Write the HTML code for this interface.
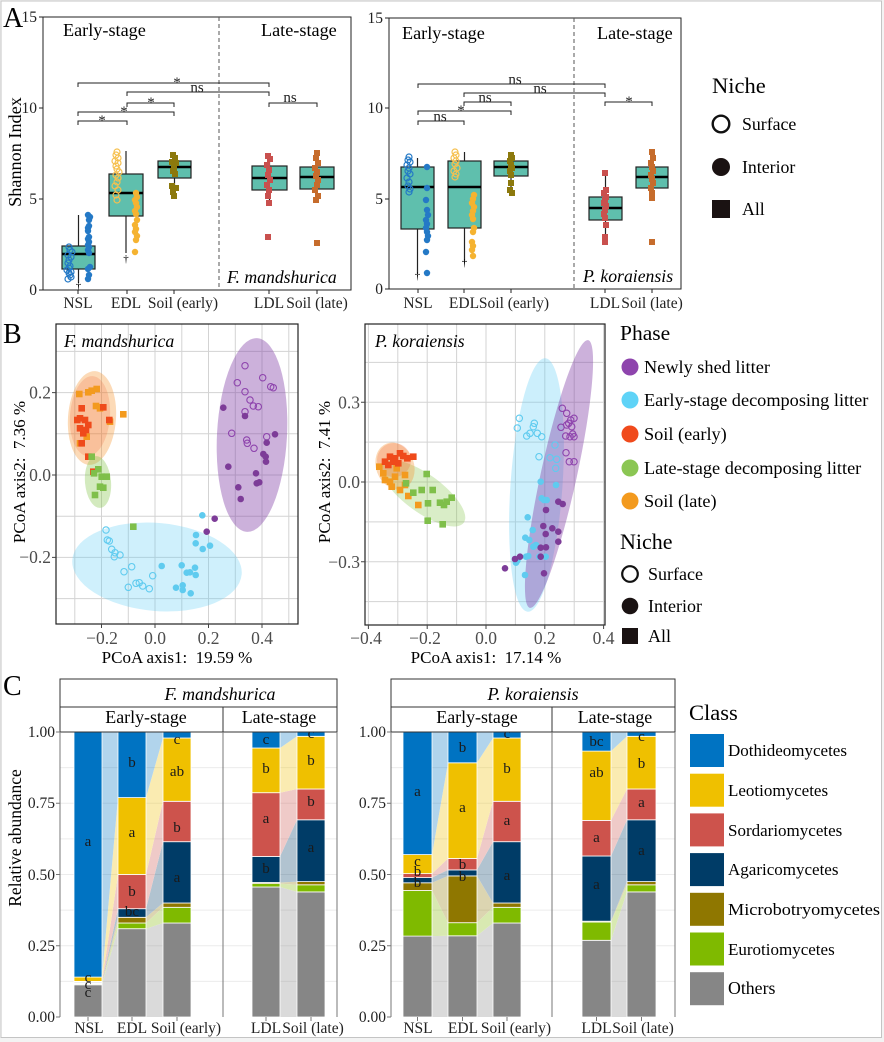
<!DOCTYPE html>
<html><head><meta charset="utf-8"><style>
html,body{margin:0;padding:0;background:#f3f3f3;}
svg{display:block;font-family:"Liberation Serif",serif;}
</style></head><body>
<svg width="884" height="1042" viewBox="0 0 884 1042" xmlns="http://www.w3.org/2000/svg" font-family="'Liberation Serif', serif">
<defs>
<clipPath id="cbl"><rect x="56" y="324" width="242" height="300"/></clipPath>
<clipPath id="cbr"><rect x="365" y="324" width="240" height="301"/></clipPath>
</defs>
<rect x="0" y="0" width="884" height="1042" fill="#f3f3f3"/>
<rect x="1" y="1" width="880.5" height="1036.5" fill="#fff" stroke="#c4c4c4" stroke-width="1"/>

<!-- ===================== PANEL A ===================== -->
<text x="3" y="27" font-size="28">A</text>
<g stroke="#222" stroke-width="1" fill="none">
<rect x="43" y="17" width="308" height="273"/>
<path d="M39 17H43M39 108H43M39 199H43M39 290H43"/>
<path d="M78 290V294M127 290V294M174 290V294M269 290V294M317 290V294"/>
</g>
<line x1="219" y1="17" x2="219" y2="290" stroke="#555" stroke-dasharray="4,3"/>
<g font-size="15.5" text-anchor="end" fill="#222">
<text x="37" y="22">15</text><text x="37" y="113">10</text><text x="37" y="204">5</text><text x="37" y="295">0</text>
</g>
<text transform="translate(21,152) rotate(-90)" font-size="18.2" text-anchor="middle">Shannon Index</text>
<g font-size="15.5" text-anchor="middle" fill="#222">
<text x="78" y="308">NSL</text><text x="126" y="308">EDL</text><text x="183" y="308">Soil (early)</text>
<text x="269" y="308">LDL</text><text x="317" y="308">Soil (late)</text>
</g>
<text x="63" y="36" font-size="18.2">Early-stage</text>
<text x="261" y="36" font-size="18.2">Late-stage</text>
<text x="227" y="283" font-size="17.7" font-style="italic">F. mandshurica</text>
<g stroke="#222" stroke-width="1" fill="none">
<path d="M78 87V83H269V87"/><path d="M127 96V92H269V96"/><path d="M127 107V103H174V107"/>
<path d="M78 116V112H174V116"/><path d="M78 125V121H127V125"/><path d="M269 107V103H317V107"/>
</g>
<g font-size="15" text-anchor="middle" fill="#222">
<text x="177" y="87">*</text><text x="197" y="92">ns</text><text x="151" y="107">*</text>
<text x="124" y="116">*</text><text x="102" y="125">*</text><text x="290" y="102">ns</text>
</g>
<g stroke="#222" stroke-width="1.2">
<line x1="78.5" y1="215" x2="78.5" y2="283"/>
<line x1="126" y1="151" x2="126" y2="253"/>
<line x1="174.5" y1="155" x2="174.5" y2="196"/>
<line x1="269.5" y1="156" x2="269.5" y2="203"/>
<line x1="317" y1="153" x2="317" y2="200"/>
</g>
<g fill="#5fbfad" stroke="#222" stroke-width="1.2">
<rect x="62" y="246" width="33" height="23"/>
<rect x="109" y="174" width="34" height="42"/>
<rect x="158" y="161" width="33" height="17"/>
<rect x="252" y="166" width="35" height="24"/>
<rect x="300" y="167" width="34" height="22"/>
</g>
<g stroke="#000" stroke-width="2.6">
<line x1="62" y1="254" x2="95" y2="254"/><line x1="109" y1="193" x2="143" y2="193"/>
<line x1="158" y1="167" x2="191" y2="167"/><line x1="252" y1="178" x2="287" y2="178"/>
<line x1="300" y1="177" x2="334" y2="177"/>
</g>
<g font-size="11" text-anchor="middle"><text x="78.5" y="289">†</text><text x="126" y="262">†</text></g>
<g fill="none" stroke="#2479c6" stroke-width="1.2">
<circle cx="69" cy="247" r="3"/><circle cx="70" cy="250" r="3"/><circle cx="68" cy="255" r="3"/><circle cx="71" cy="257" r="3"/><circle cx="69" cy="260" r="3"/><circle cx="68" cy="263" r="3"/><circle cx="70" cy="266" r="3"/><circle cx="69" cy="268" r="3"/><circle cx="71" cy="272" r="3"/><circle cx="69" cy="273" r="3"/><circle cx="70" cy="275" r="3"/><circle cx="68" cy="279" r="3"/><circle cx="71" cy="277" r="3"/><circle cx="72" cy="252" r="3"/><circle cx="67" cy="270" r="3"/>
</g>
<g fill="#2479c6">
<circle cx="88" cy="215" r="3.2"/><circle cx="90" cy="217" r="3.2"/><circle cx="89" cy="220" r="3.2"/><circle cx="89" cy="226" r="3.2"/><circle cx="88" cy="228" r="3.2"/><circle cx="88" cy="231" r="3.2"/><circle cx="89" cy="237" r="3.2"/><circle cx="88" cy="239" r="3.2"/><circle cx="89" cy="242" r="3.2"/><circle cx="88" cy="245" r="3.2"/><circle cx="89" cy="247" r="3.2"/><circle cx="88" cy="250" r="3.2"/><circle cx="89" cy="253" r="3.2"/><circle cx="90" cy="267" r="3.2"/><circle cx="88" cy="269" r="3.2"/><circle cx="89" cy="275" r="3.2"/><circle cx="88" cy="279" r="3.2"/>
</g>
<g fill="none" stroke="#f6c04f" stroke-width="1.2">
<circle cx="117" cy="152" r="3"/><circle cx="116" cy="155" r="3"/><circle cx="118" cy="158" r="3"/><circle cx="115" cy="161" r="3"/><circle cx="118" cy="163" r="3"/><circle cx="116" cy="166" r="3"/><circle cx="117" cy="169" r="3"/><circle cx="119" cy="172" r="3"/><circle cx="116" cy="175" r="3"/><circle cx="118" cy="178" r="3"/><circle cx="117" cy="182" r="3"/><circle cx="115" cy="186" r="3"/><circle cx="118" cy="190" r="3"/><circle cx="116" cy="195" r="3"/><circle cx="117" cy="200" r="3"/>
</g>
<g fill="#f5b331">
<circle cx="136" cy="193" r="3.2"/><circle cx="137" cy="197" r="3.2"/><circle cx="135" cy="200" r="3.2"/><circle cx="136" cy="203" r="3.2"/><circle cx="137" cy="207" r="3.2"/><circle cx="135" cy="211" r="3.2"/><circle cx="136" cy="214" r="3.2"/><circle cx="137" cy="220" r="3.2"/><circle cx="135" cy="225" r="3.2"/><circle cx="136" cy="229" r="3.2"/><circle cx="135" cy="232" r="3.2"/><circle cx="137" cy="236" r="3.2"/><circle cx="136" cy="240" r="3.2"/><circle cx="135" cy="252" r="3.2"/>
</g>
<g fill="#8c790d">
<rect x="170" y="152" width="6" height="6"/><rect x="172" y="155" width="6" height="6"/><rect x="169" y="159" width="6" height="6"/><rect x="173" y="160" width="6" height="6"/><rect x="171" y="163" width="6" height="6"/><rect x="171" y="165" width="6" height="6"/><rect x="170" y="168" width="6" height="6"/><rect x="172" y="171" width="6" height="6"/><rect x="169" y="183" width="6" height="6"/><rect x="173" y="185" width="6" height="6"/><rect x="170" y="189" width="6" height="6"/><rect x="171" y="193" width="6" height="6"/>
</g>
<g fill="#c9504e">
<rect x="265" y="153" width="6" height="6"/><rect x="267" y="156" width="6" height="6"/><rect x="264" y="162" width="6" height="6"/><rect x="266" y="167" width="6" height="6"/><rect x="265" y="172" width="6" height="6"/><rect x="267" y="177" width="6" height="6"/><rect x="264" y="182" width="6" height="6"/><rect x="266" y="187" width="6" height="6"/><rect x="265" y="193" width="6" height="6"/><rect x="266" y="200" width="6" height="6"/><rect x="265" y="234" width="6" height="6"/>
</g>
<g fill="#c66c2c">
<rect x="314" y="150" width="6" height="6"/><rect x="313" y="155" width="6" height="6"/><rect x="315" y="160" width="6" height="6"/><rect x="312" y="165" width="6" height="6"/><rect x="314" y="169" width="6" height="6"/><rect x="313" y="173" width="6" height="6"/><rect x="315" y="177" width="6" height="6"/><rect x="314" y="182" width="6" height="6"/><rect x="312" y="187" width="6" height="6"/><rect x="315" y="193" width="6" height="6"/><rect x="313" y="197" width="6" height="6"/><rect x="314" y="240" width="6" height="6"/>
</g>

<!-- right plot A -->
<g stroke="#222" stroke-width="1" fill="none">
<rect x="389" y="18" width="292" height="271"/>
<path d="M385 18H389M385 108H389M385 199H389M385 289H389"/>
<path d="M418 289V293M464 289V293M511 289V293M605 289V293M652 289V293"/>
</g>
<line x1="574" y1="18" x2="574" y2="289" stroke="#555" stroke-dasharray="4,3"/>
<g font-size="15.5" text-anchor="end" fill="#222">
<text x="383" y="23">15</text><text x="383" y="113">10</text><text x="383" y="204">5</text><text x="383" y="294">0</text>
</g>
<g font-size="15.5" text-anchor="middle" fill="#222">
<text x="418" y="308">NSL</text><text x="464" y="308">EDL</text><text x="514" y="308">Soil (early)</text>
<text x="605" y="308">LDL</text><text x="652" y="308">Soil (late)</text>
</g>
<text x="402" y="39" font-size="18.2">Early-stage</text>
<text x="597" y="39" font-size="18.2">Late-stage</text>
<text x="583" y="282" font-size="17.7" font-style="italic">P. koraiensis</text>
<g stroke="#222" stroke-width="1" fill="none">
<path d="M418 88V84H605V88"/><path d="M464 97V93H605V97"/><path d="M464 106V102H511V106"/>
<path d="M418 115V111H511V115"/><path d="M418 125V121H464V125"/><path d="M605 106V102H652V106"/>
</g>
<g font-size="15" text-anchor="middle" fill="#222">
<text x="515" y="84">ns</text><text x="540" y="93">ns</text><text x="485" y="102">ns</text>
<text x="461" y="115">*</text><text x="440" y="121">ns</text><text x="629" y="106">*</text>
</g>
<g stroke="#222" stroke-width="1.2">
<line x1="417.5" y1="158" x2="417.5" y2="274"/>
<line x1="464.5" y1="152" x2="464.5" y2="262"/>
<line x1="511" y1="155" x2="511" y2="195"/>
<line x1="605.5" y1="173" x2="605.5" y2="243"/>
<line x1="652" y1="152" x2="652" y2="198"/>
</g>
<g fill="#5fbfad" stroke="#222" stroke-width="1.2">
<rect x="401" y="167" width="33" height="62"/>
<rect x="448" y="161" width="33" height="67"/>
<rect x="494" y="161" width="34" height="15"/>
<rect x="589" y="197" width="33" height="23"/>
<rect x="636" y="167" width="32" height="21"/>
</g>
<g stroke="#000" stroke-width="2.6">
<line x1="401" y1="187" x2="434" y2="187"/><line x1="448" y1="187" x2="481" y2="187"/>
<line x1="494" y1="167" x2="528" y2="167"/><line x1="589" y1="208" x2="622" y2="208"/>
<line x1="636" y1="177" x2="668" y2="177"/>
</g>
<g font-size="11" text-anchor="middle"><text x="417.5" y="279">†</text><text x="464.5" y="266">†</text></g>
<g fill="none" stroke="#2479c6" stroke-width="1.2">
<circle cx="409" cy="157" r="3"/><circle cx="408" cy="160" r="3"/><circle cx="410" cy="162" r="3"/><circle cx="407" cy="165" r="3"/><circle cx="409" cy="168" r="3"/><circle cx="408" cy="171" r="3"/><circle cx="410" cy="174" r="3"/><circle cx="407" cy="178" r="3"/><circle cx="409" cy="182" r="3"/><circle cx="408" cy="186" r="3"/><circle cx="410" cy="189" r="3"/><circle cx="409" cy="192" r="3"/>
</g>
<g fill="#2479c6">
<circle cx="427" cy="167" r="3.2"/><circle cx="427" cy="188" r="3.2"/><circle cx="426" cy="200" r="3.2"/><circle cx="427" cy="210" r="3.2"/><circle cx="428" cy="215" r="3.2"/><circle cx="426" cy="220" r="3.2"/><circle cx="427" cy="224" r="3.2"/><circle cx="426" cy="228" r="3.2"/><circle cx="427" cy="232" r="3.2"/><circle cx="428" cy="236" r="3.2"/><circle cx="427" cy="240" r="3.2"/><circle cx="426" cy="252" r="3.2"/><circle cx="427" cy="273" r="3.2"/>
</g>
<g fill="none" stroke="#f6c04f" stroke-width="1.2">
<circle cx="455" cy="152" r="3"/><circle cx="456" cy="155" r="3"/><circle cx="454" cy="158" r="3"/><circle cx="456" cy="161" r="3"/><circle cx="455" cy="164" r="3"/><circle cx="457" cy="168" r="3"/><circle cx="454" cy="171" r="3"/><circle cx="456" cy="174" r="3"/><circle cx="455" cy="177" r="3"/>
</g>
<g fill="#f5b331">
<circle cx="474" cy="195" r="3.2"/><circle cx="473" cy="199" r="3.2"/><circle cx="472" cy="203" r="3.2"/><circle cx="474" cy="207" r="3.2"/><circle cx="473" cy="211" r="3.2"/><circle cx="472" cy="215" r="3.2"/><circle cx="473" cy="219" r="3.2"/><circle cx="474" cy="228" r="3.2"/><circle cx="473" cy="232" r="3.2"/><circle cx="472" cy="242" r="3.2"/><circle cx="473" cy="246" r="3.2"/><circle cx="472" cy="250" r="3.2"/><circle cx="473" cy="256" r="3.2"/>
</g>
<g fill="#8c790d">
<rect x="508" y="152" width="6" height="6"/><rect x="509" y="155" width="6" height="6"/><rect x="507" y="158" width="6" height="6"/><rect x="508" y="162" width="6" height="6"/><rect x="509" y="165" width="6" height="6"/><rect x="507" y="168" width="6" height="6"/><rect x="508" y="172" width="6" height="6"/><rect x="508" y="180" width="6" height="6"/><rect x="507" y="187" width="6" height="6"/><rect x="509" y="190" width="6" height="6"/>
</g>
<g fill="#c9504e">
<rect x="602" y="170" width="6" height="6"/><rect x="603" y="187" width="6" height="6"/><rect x="601" y="190" width="6" height="6"/><rect x="603" y="194" width="6" height="6"/><rect x="602" y="197" width="6" height="6"/><rect x="601" y="200" width="6" height="6"/><rect x="603" y="203" width="6" height="6"/><rect x="602" y="207" width="6" height="6"/><rect x="601" y="211" width="6" height="6"/><rect x="602" y="215" width="6" height="6"/><rect x="603" y="222" width="6" height="6"/><rect x="602" y="234" width="6" height="6"/><rect x="602" y="239" width="6" height="6"/>
</g>
<g fill="#c66c2c">
<rect x="649" y="149" width="6" height="6"/><rect x="650" y="155" width="6" height="6"/><rect x="648" y="160" width="6" height="6"/><rect x="649" y="164" width="6" height="6"/><rect x="650" y="168" width="6" height="6"/><rect x="648" y="172" width="6" height="6"/><rect x="649" y="176" width="6" height="6"/><rect x="650" y="180" width="6" height="6"/><rect x="648" y="185" width="6" height="6"/><rect x="649" y="190" width="6" height="6"/><rect x="649" y="195" width="6" height="6"/><rect x="649" y="239" width="6" height="6"/>
</g>

<!-- legend A -->
<text x="712" y="93" font-size="22.5">Niche</text>
<circle cx="721" cy="124" r="8.3" fill="none" stroke="#111" stroke-width="2.4"/>
<text x="742" y="130" font-size="17.8">Surface</text>
<circle cx="721" cy="167" r="9" fill="#1a1212"/>
<text x="742" y="173" font-size="17.8">Interior</text>
<rect x="712" y="200" width="18" height="18" fill="#1a1212"/>
<text x="742" y="215" font-size="17.8">All</text>

<!-- ===================== PANEL B ===================== -->
<text x="3" y="343" font-size="28">B</text>
<g stroke="#d3d3d3" stroke-width="1">
<path d="M74.8 324V624M101.5 324V624M128.3 324V624M155 324V624M181.8 324V624M208.5 324V624M235.3 324V624M262 324V624M288.8 324V624"/>
<path d="M56 351.4H298M56 392.6H298M56 433.8H298M56 475H298M56 516.2H298M56 557.4H298M56 598.6H298"/>
</g>
<g clip-path="url(#cbl)">
<ellipse cx="252" cy="435" rx="35" ry="97" transform="rotate(3 252 435)" fill="rgba(128,60,165,0.4)"/>
<ellipse cx="92" cy="418" rx="24" ry="47" transform="rotate(4 92 418)" fill="rgba(245,150,50,0.35)"/>
<ellipse cx="90" cy="416" rx="20" ry="40" transform="rotate(4 90 416)" fill="rgba(240,75,30,0.18)"/>
<ellipse cx="98" cy="482" rx="13" ry="26" transform="rotate(-5 98 482)" fill="rgba(130,195,70,0.35)"/>
<ellipse cx="157" cy="567" rx="85" ry="44" transform="rotate(5 157 567)" fill="rgba(95,205,245,0.3)"/>
<g fill="none" stroke="#8e44ad" stroke-width="1.1">
<circle cx="245" cy="365.7" r="3.2"/><circle cx="237.3" cy="382.7" r="3.2"/><circle cx="245" cy="391.7" r="3.2"/><circle cx="262.7" cy="377.7" r="3.2"/><circle cx="270.7" cy="386.7" r="3.2"/><circle cx="273.3" cy="387.7" r="3.2"/><circle cx="250" cy="400" r="3.2"/><circle cx="258.3" cy="406.7" r="3.2"/><circle cx="253.3" cy="406" r="3.2"/><circle cx="245" cy="411.7" r="3.2"/><circle cx="231.7" cy="433.3" r="3.2"/><circle cx="246.7" cy="440" r="3.2"/><circle cx="247.3" cy="443.3" r="3.2"/><circle cx="254" cy="448.3" r="3.2"/><circle cx="266.7" cy="436.7" r="3.2"/>
</g>
<g fill="#7d3c98">
<circle cx="223.3" cy="407.7" r="3.3"/><circle cx="245" cy="416" r="3.3"/><circle cx="228.3" cy="466.7" r="3.3"/><circle cx="266.7" cy="442.7" r="3.3"/><circle cx="275" cy="434.3" r="3.3"/><circle cx="263.3" cy="454" r="3.3"/><circle cx="265.7" cy="456.7" r="3.3"/><circle cx="266" cy="461.7" r="3.3"/><circle cx="256" cy="473.3" r="3.3"/><circle cx="256.7" cy="483.3" r="3.3"/><circle cx="259.3" cy="482.3" r="3.3"/><circle cx="238.3" cy="487.3" r="3.3"/><circle cx="240.7" cy="499" r="3.3"/><circle cx="214.7" cy="518.7" r="3.3"/><circle cx="206.7" cy="531.7" r="3.3"/>
</g>
<g fill="none" stroke="#5fcbef" stroke-width="1.1">
<circle cx="106" cy="530" r="3.2"/><circle cx="107.3" cy="540" r="3.2"/><circle cx="109.3" cy="541" r="3.2"/><circle cx="111.7" cy="549.3" r="3.2"/><circle cx="115" cy="552.7" r="3.2"/><circle cx="114.3" cy="556.7" r="3.2"/><circle cx="120" cy="555" r="3.2"/><circle cx="131.7" cy="566.7" r="3.2"/><circle cx="124" cy="571.7" r="3.2"/><circle cx="136" cy="583.3" r="3.2"/><circle cx="139.3" cy="582.7" r="3.2"/><circle cx="142.7" cy="586" r="3.2"/><circle cx="128.3" cy="587.3" r="3.2"/><circle cx="152.7" cy="575.7" r="3.2"/><circle cx="149.3" cy="588.7" r="3.2"/>
</g>
<g fill="#5fcbef">
<circle cx="202.3" cy="515.3" r="3.3"/><circle cx="196" cy="535" r="3.3"/><circle cx="195.7" cy="543.3" r="3.3"/><circle cx="202.7" cy="549" r="3.3"/><circle cx="210" cy="545.7" r="3.3"/><circle cx="161.7" cy="566" r="3.3"/><circle cx="181.7" cy="565.3" r="3.3"/><circle cx="186.7" cy="572.7" r="3.3"/><circle cx="195" cy="567.7" r="3.3"/><circle cx="195.7" cy="575" r="3.3"/><circle cx="190" cy="572.3" r="3.3"/><circle cx="176" cy="587.7" r="3.3"/><circle cx="182.7" cy="585.3" r="3.3"/><circle cx="182.7" cy="590" r="3.3"/><circle cx="190.7" cy="593.3" r="3.3"/>
</g>
<g fill="#f39a1e">
<rect x="76" y="390.7" width="6.6" height="6.6"/><rect x="85" y="389" width="6.6" height="6.6"/><rect x="93.4" y="385.7" width="6.6" height="6.6"/><rect x="92.7" y="402.7" width="6.6" height="6.6"/><rect x="96.7" y="405" width="6.6" height="6.6"/><rect x="106.7" y="418.4" width="6.6" height="6.6"/><rect x="120" y="411" width="6.6" height="6.6"/><rect x="76.7" y="440" width="6.6" height="6.6"/><rect x="83.4" y="433.4" width="6.6" height="6.6"/><rect x="88.4" y="387.4" width="6.6" height="6.6"/><rect x="98.4" y="404" width="6.6" height="6.6"/>
</g>
<g fill="#ef4a1b">
<rect x="78.4" y="405" width="6.6" height="6.6"/><rect x="76.7" y="415" width="6.6" height="6.6"/><rect x="81.7" y="416.7" width="6.6" height="6.6"/><rect x="85" y="421.7" width="6.6" height="6.6"/><rect x="76.7" y="425" width="6.6" height="6.6"/><rect x="80" y="430" width="6.6" height="6.6"/><rect x="78.4" y="440" width="6.6" height="6.6"/><rect x="85" y="453.4" width="6.6" height="6.6"/><rect x="90" y="468.4" width="6.6" height="6.6"/><rect x="100" y="404" width="6.6" height="6.6"/><rect x="106" y="416.7" width="6.6" height="6.6"/><rect x="74" y="416.7" width="6.6" height="6.6"/><rect x="82.7" y="426.7" width="6.6" height="6.6"/>
</g>
<g fill="#7fbf4a">
<rect x="88.4" y="453.4" width="6.6" height="6.6"/><rect x="95" y="466" width="6.6" height="6.6"/><rect x="90.7" y="470" width="6.6" height="6.6"/><rect x="98.4" y="473.4" width="6.6" height="6.6"/><rect x="103.4" y="473.4" width="6.6" height="6.6"/><rect x="96.7" y="483.4" width="6.6" height="6.6"/><rect x="100" y="484.4" width="6.6" height="6.6"/><rect x="91.7" y="491.7" width="6.6" height="6.6"/><rect x="130" y="523.4" width="6.6" height="6.6"/>
</g>
</g>
<rect x="56" y="324" width="242" height="300" fill="none" stroke="#222" stroke-width="1.2"/>
<g stroke="#444"><path d="M52 392.6H56M52 475H56M52 557.4H56M101.5 624V628M155 624V628M208.5 624V628M262 624V628"/></g>
<g font-size="17.5" fill="#4d4d4d" text-anchor="end">
<text x="51" y="398.5">0.2</text><text x="51" y="481">0.0</text><text x="51" y="563">−0.2</text>
</g>
<g font-size="17.5" fill="#4d4d4d" text-anchor="middle">
<text x="102" y="644">−0.2</text><text x="155" y="644">0.0</text><text x="208.5" y="644">0.2</text><text x="262" y="644">0.4</text>
</g>
<text x="177" y="663" font-size="17" text-anchor="middle" xml:space="preserve">PCoA axis1:  19.59 %</text>
<text transform="translate(25,472) rotate(-90)" font-size="17" text-anchor="middle" xml:space="preserve">PCoA axis2:  7.36 %</text>
<text x="64" y="347" font-size="17.8" font-style="italic">F. mandshurica</text>

<!-- right B -->
<g stroke="#d3d3d3" stroke-width="1">
<path d="M368.4 324V625M397.8 324V625M427.2 324V625M456.6 324V625M486 324V625M515.4 324V625M544.8 324V625M574.2 324V625M603.6 324V625"/>
<path d="M365 362.4H605M365 402.3H605M365 442.1H605M365 482H605M365 521.9H605M365 561.7H605M365 601.6H605"/>
</g>
<g clip-path="url(#cbr)">
<ellipse cx="536.5" cy="485" rx="26" ry="127" transform="rotate(4 536.5 485)" fill="rgba(95,205,245,0.32)"/>
<ellipse cx="559" cy="474" rx="18" ry="137" transform="rotate(12.3 559 474)" fill="rgba(128,60,165,0.4)"/>
<ellipse cx="423.3" cy="493.3" rx="50" ry="19" transform="rotate(36 423.3 493.3)" fill="rgba(130,195,70,0.3)"/>
<ellipse cx="395" cy="466" rx="19" ry="24" transform="rotate(-20 395 466)" fill="rgba(245,150,50,0.35)"/>
<ellipse cx="394" cy="460" rx="17" ry="17" fill="rgba(240,75,30,0.2)"/>
<g fill="#f39a1e">
<rect x="376" y="463.4" width="6.6" height="6.6"/><rect x="380" y="470" width="6.6" height="6.6"/><rect x="381.7" y="476.7" width="6.6" height="6.6"/><rect x="386.7" y="478.4" width="6.6" height="6.6"/><rect x="391.7" y="473.4" width="6.6" height="6.6"/><rect x="396.7" y="486.7" width="6.6" height="6.6"/><rect x="401.7" y="481.7" width="6.6" height="6.6"/><rect x="405" y="492.7" width="6.6" height="6.6"/><rect x="415" y="501.7" width="6.6" height="6.6"/><rect x="393.4" y="465" width="6.6" height="6.6"/><rect x="401.7" y="471.7" width="6.6" height="6.6"/><rect x="388.4" y="483.4" width="6.6" height="6.6"/>
</g>
<g fill="#ef4a1b">
<rect x="381.7" y="458.4" width="6.6" height="6.6"/><rect x="386.7" y="453.4" width="6.6" height="6.6"/><rect x="391.7" y="455" width="6.6" height="6.6"/><rect x="396.7" y="450" width="6.6" height="6.6"/><rect x="400" y="452.7" width="6.6" height="6.6"/><rect x="410" y="453.4" width="6.6" height="6.6"/><rect x="385" y="461.7" width="6.6" height="6.6"/><rect x="395" y="460" width="6.6" height="6.6"/><rect x="390" y="458.4" width="6.6" height="6.6"/><rect x="404" y="455" width="6.6" height="6.6"/>
</g>
<g fill="#7fbf4a">
<rect x="423.4" y="470.7" width="6.6" height="6.6"/><rect x="418.4" y="486.7" width="6.6" height="6.6"/><rect x="429.4" y="486.7" width="6.6" height="6.6"/><rect x="410" y="489.4" width="6.6" height="6.6"/><rect x="424.7" y="500" width="6.6" height="6.6"/><rect x="436.7" y="499.4" width="6.6" height="6.6"/><rect x="440.7" y="501.7" width="6.6" height="6.6"/><rect x="448.4" y="494.4" width="6.6" height="6.6"/><rect x="443.4" y="498.4" width="6.6" height="6.6"/><rect x="424.4" y="517.4" width="6.6" height="6.6"/><rect x="439.4" y="521" width="6.6" height="6.6"/><rect x="402.7" y="480" width="6.6" height="6.6"/>
</g>
<g fill="none" stroke="#5fcbef" stroke-width="1.1">
<circle cx="519.3" cy="418.3" r="3.2"/><circle cx="517.3" cy="428" r="3.2"/><circle cx="534.3" cy="423.3" r="3.2"/><circle cx="533.3" cy="426.7" r="3.2"/><circle cx="526.7" cy="436" r="3.2"/><circle cx="530" cy="433.3" r="3.2"/><circle cx="537.3" cy="433.3" r="3.2"/><circle cx="541.7" cy="436.7" r="3.2"/><circle cx="539" cy="456.7" r="3.2"/><circle cx="550" cy="457.7" r="3.2"/><circle cx="556.7" cy="459.3" r="3.2"/><circle cx="555.7" cy="468.3" r="3.2"/><circle cx="555" cy="445" r="3.2"/>
</g>
<g fill="#5fcbef">
<circle cx="540.7" cy="481.7" r="3.3"/><circle cx="556" cy="485" r="3.3"/><circle cx="541.7" cy="498.3" r="3.3"/><circle cx="546.7" cy="500" r="3.3"/><circle cx="544" cy="500" r="3.3"/><circle cx="527.7" cy="517.3" r="3.3"/><circle cx="532.7" cy="530" r="3.3"/><circle cx="525.3" cy="537.7" r="3.3"/><circle cx="529.3" cy="540" r="3.3"/><circle cx="536" cy="545" r="3.3"/><circle cx="533.3" cy="546.7" r="3.3"/><circle cx="528.3" cy="556" r="3.3"/><circle cx="526" cy="556.7" r="3.3"/><circle cx="517.3" cy="560.7" r="3.3"/><circle cx="516" cy="562.7" r="3.3"/><circle cx="525" cy="575" r="3.3"/><circle cx="539.3" cy="556.7" r="3.3"/><circle cx="545.7" cy="556.7" r="3.3"/>
</g>
<g fill="none" stroke="#8e44ad" stroke-width="1.1">
<circle cx="562.3" cy="408.3" r="3.2"/><circle cx="566.7" cy="413.3" r="3.2"/><circle cx="570.7" cy="420" r="3.2"/><circle cx="574" cy="418.3" r="3.2"/><circle cx="561" cy="427.3" r="3.2"/><circle cx="566.7" cy="425" r="3.2"/><circle cx="568.7" cy="423.3" r="3.2"/><circle cx="571.7" cy="426.7" r="3.2"/><circle cx="565.7" cy="436" r="3.2"/><circle cx="572.7" cy="434" r="3.2"/><circle cx="574" cy="436.7" r="3.2"/><circle cx="570" cy="436.7" r="3.2"/><circle cx="566" cy="452.7" r="3.2"/><circle cx="569.3" cy="461.7" r="3.2"/><circle cx="574" cy="461.7" r="3.2"/>
</g>
<g fill="#7d3c98">
<circle cx="558.3" cy="501.7" r="3.3"/><circle cx="562.7" cy="504" r="3.3"/><circle cx="546" cy="510" r="3.3"/><circle cx="543.3" cy="526" r="3.3"/><circle cx="552.3" cy="528.3" r="3.3"/><circle cx="558.3" cy="531.7" r="3.3"/><circle cx="545.7" cy="534" r="3.3"/><circle cx="558.3" cy="541.7" r="3.3"/><circle cx="546" cy="547.3" r="3.3"/><circle cx="540.7" cy="547.7" r="3.3"/><circle cx="540.7" cy="556.7" r="3.3"/><circle cx="544" cy="573.3" r="3.3"/><circle cx="515" cy="559" r="3.3"/><circle cx="505" cy="568.3" r="3.3"/><circle cx="520" cy="556.7" r="3.3"/>
</g>
</g>
<rect x="365" y="324" width="240" height="301" fill="none" stroke="#222" stroke-width="1.2"/>
<g stroke="#444"><path d="M361 402.3H365M361 482H365M361 561.7H365M368.4 625V629M427.2 625V629M486 625V629M544.8 625V629M603.6 625V629"/></g>
<g font-size="17.5" fill="#4d4d4d" text-anchor="end">
<text x="360" y="408.5">0.3</text><text x="360" y="488">0.0</text><text x="360" y="568">−0.3</text>
</g>
<g font-size="17.5" fill="#4d4d4d" text-anchor="middle">
<text x="366" y="644">−0.4</text><text x="425" y="644">−0.2</text><text x="486" y="644">0.0</text><text x="544.8" y="644">0.2</text><text x="603.6" y="644">0.4</text>
</g>
<text x="486" y="663" font-size="17" text-anchor="middle" xml:space="preserve">PCoA axis1:  17.14 %</text>
<text transform="translate(330,472) rotate(-90)" font-size="17" text-anchor="middle" xml:space="preserve">PCoA axis2:  7.41 %</text>
<text x="375" y="347" font-size="17.6" font-style="italic">P. koraiensis</text>

<!-- legend B -->
<text x="620" y="340" font-size="21.5">Phase</text>
<circle cx="630" cy="367" r="8.5" fill="#8e44ad"/><text x="644" y="373" font-size="18.3">Newly shed litter</text>
<circle cx="630" cy="400" r="8.5" fill="#5fd3f7"/><text x="644" y="406" font-size="18.3">Early-stage decomposing litter</text>
<circle cx="630" cy="434" r="8.5" fill="#f04a1c"/><text x="644" y="440" font-size="18.3">Soil (early)</text>
<circle cx="630" cy="468" r="8.5" fill="#8bc653"/><text x="644" y="474" font-size="18.3">Late-stage decomposing litter</text>
<circle cx="630" cy="501" r="8.5" fill="#f39a1e"/><text x="644" y="507" font-size="18.3">Soil (late)</text>
<text x="620" y="549" font-size="22">Niche</text>
<circle cx="630" cy="574" r="7.8" fill="none" stroke="#111" stroke-width="2.2"/><text x="648" y="580" font-size="18">Surface</text>
<circle cx="630" cy="606" r="8.3" fill="#1a1212"/><text x="648" y="612" font-size="18">Interior</text>
<rect x="622" y="628" width="16" height="16" fill="#1a1212"/><text x="648" y="642" font-size="18">All</text>

<!-- ===================== PANEL C ===================== -->
<text x="3" y="695" font-size="28">C</text>
<g stroke="#ececec" stroke-width="1">
<path d="M60 981.4H337M60 945.8H337M60 910.1H337M60 874.5H337M60 838.9H337M60 803.3H337M60 767.6H337"/>
<path d="M391 981.4H675M391 945.8H675M391 910.1H675M391 874.5H675M391 838.9H675M391 803.3H675M391 767.6H675"/>
</g>
<g opacity="0.3">
<g fill="#868686"><polygon points="102,1017 118,1017 118,928.7 102,984.8"/><polygon points="146,1017 163,1017 163,923 146,928.7"/><polygon points="280,1017 297,1017 297,891.9 280,887"/>
<polygon points="432,1017 448,1017 448,935.8 432,936.1"/><polygon points="477,1017 493,1017 493,923 477,935.8"/><polygon points="611,1017 627,1017 627,891.9 611,940.3"/></g>
<g fill="#7fba00"><polygon points="102,984.8 118,928.7 118,923 102,983.9"/><polygon points="146,928.7 163,923 163,907.3 146,923"/><polygon points="280,887 297,891.9 297,884.8 280,883.6"/>
<polygon points="432,936.1 448,935.8 448,922.7 432,890.5"/><polygon points="477,935.8 493,923 493,907.3 477,922.7"/><polygon points="611,940.3 627,891.9 627,884.8 611,922.1"/></g>
<g fill="#8f7700"><polygon points="102,983.9 118,923 118,917.3 102,983.1"/><polygon points="146,923 163,907.3 163,903 146,917.3"/><polygon points="280,883.6 297,884.8 297,881.6 280,882.5"/>
<polygon points="432,890.5 448,922.7 448,875.9 432,882.8"/><polygon points="477,922.7 493,907.3 493,903 477,875.9"/><polygon points="611,922.1 627,884.8 627,881.6 611,921.2"/></g>
<g fill="#003c67"><polygon points="102,983.1 118,917.3 118,908.7 102,982.2"/><polygon points="146,917.3 163,903 163,841.7 146,908.7"/><polygon points="280,882.5 297,881.6 297,819.8 280,856.5"/>
<polygon points="432,882.8 448,875.9 448,869.9 432,877.6"/><polygon points="477,875.9 493,903 493,841.7 477,869.9"/><polygon points="611,921.2 627,881.6 627,819.8 611,856"/></g>
<g fill="#cd534c"><polygon points="102,982.2 118,908.7 118,874.5 102,981.4"/><polygon points="146,908.7 163,841.7 163,801.3 146,874.5"/><polygon points="280,856.5 297,819.8 297,789 280,792.7"/>
<polygon points="432,877.6 448,869.9 448,858.5 432,873.6"/><polygon points="477,869.9 493,841.7 493,801.3 477,858.5"/><polygon points="611,856 627,819.8 627,789 611,820.4"/></g>
<g fill="#efc000"><polygon points="102,981.4 118,874.5 118,797.6 102,977.1"/><polygon points="146,874.5 163,801.3 163,738 146,797.6"/><polygon points="280,792.7 297,789 297,736.3 280,748"/>
<polygon points="432,873.6 448,858.5 448,762.8 432,854.6"/><polygon points="477,858.5 493,801.3 493,738 477,762.8"/><polygon points="611,820.4 627,789 627,736.3 611,751.1"/></g>
<g fill="#0073c2"><polygon points="102,977.1 118,797.6 118,732 102,732"/><polygon points="146,797.6 163,738 163,732 146,732"/><polygon points="280,748 297,736.3 297,732 280,732"/>
<polygon points="432,854.6 448,762.8 448,732 432,732"/><polygon points="477,762.8 493,738 493,732 477,732"/><polygon points="611,751.1 627,736.3 627,732 611,732"/></g>
</g>
<g stroke="#fff" stroke-width="0.8">
<rect x="74" y="984.8" width="28" height="32.2" fill="#868686"/><rect x="74" y="983.9" width="28" height="0.9" fill="#7fba00"/><rect x="74" y="983.1" width="28" height="0.8" fill="#8f7700"/><rect x="74" y="982.2" width="28" height="0.9" fill="#003c67"/><rect x="74" y="981.4" width="28" height="0.8" fill="#cd534c"/><rect x="74" y="977.1" width="28" height="4.3" fill="#efc000"/><rect x="74" y="732" width="28" height="245.1" fill="#0073c2"/>
<rect x="118" y="928.7" width="28" height="88.3" fill="#868686"/><rect x="118" y="923" width="28" height="5.7" fill="#7fba00"/><rect x="118" y="917.3" width="28" height="5.7" fill="#8f7700"/><rect x="118" y="908.7" width="28" height="8.6" fill="#003c67"/><rect x="118" y="874.5" width="28" height="34.2" fill="#cd534c"/><rect x="118" y="797.6" width="28" height="76.9" fill="#efc000"/><rect x="118" y="732" width="28" height="65.6" fill="#0073c2"/>
<rect x="163" y="923" width="28" height="94" fill="#868686"/><rect x="163" y="907.3" width="28" height="15.7" fill="#7fba00"/><rect x="163" y="903" width="28" height="4.3" fill="#8f7700"/><rect x="163" y="841.7" width="28" height="61.3" fill="#003c67"/><rect x="163" y="801.3" width="28" height="40.4" fill="#cd534c"/><rect x="163" y="738" width="28" height="63.3" fill="#efc000"/><rect x="163" y="732" width="28" height="6" fill="#0073c2"/>
<rect x="252" y="887" width="28" height="130" fill="#868686"/><rect x="252" y="883.6" width="28" height="3.4" fill="#7fba00"/><rect x="252" y="882.5" width="28" height="1.1" fill="#8f7700"/><rect x="252" y="856.5" width="28" height="26" fill="#003c67"/><rect x="252" y="792.7" width="28" height="63.8" fill="#cd534c"/><rect x="252" y="748" width="28" height="44.7" fill="#efc000"/><rect x="252" y="732" width="28" height="16" fill="#0073c2"/>
<rect x="297" y="891.9" width="28" height="125.1" fill="#868686"/><rect x="297" y="884.8" width="28" height="7.1" fill="#7fba00"/><rect x="297" y="881.6" width="28" height="3.2" fill="#8f7700"/><rect x="297" y="819.8" width="28" height="61.8" fill="#003c67"/><rect x="297" y="789" width="28" height="30.8" fill="#cd534c"/><rect x="297" y="736.3" width="28" height="52.7" fill="#efc000"/><rect x="297" y="732" width="28" height="4.3" fill="#0073c2"/>
<rect x="403" y="936.1" width="29" height="80.9" fill="#868686"/><rect x="403" y="890.5" width="29" height="45.6" fill="#7fba00"/><rect x="403" y="882.8" width="29" height="7.7" fill="#8f7700"/><rect x="403" y="877.6" width="29" height="5.2" fill="#003c67"/><rect x="403" y="873.6" width="29" height="4" fill="#cd534c"/><rect x="403" y="854.6" width="29" height="19" fill="#efc000"/><rect x="403" y="732" width="29" height="122.6" fill="#0073c2"/>
<rect x="448" y="935.8" width="29" height="81.2" fill="#868686"/><rect x="448" y="922.7" width="29" height="13.1" fill="#7fba00"/><rect x="448" y="875.9" width="29" height="46.8" fill="#8f7700"/><rect x="448" y="869.9" width="29" height="6" fill="#003c67"/><rect x="448" y="858.5" width="29" height="11.4" fill="#cd534c"/><rect x="448" y="762.8" width="29" height="95.7" fill="#efc000"/><rect x="448" y="732" width="29" height="30.8" fill="#0073c2"/>
<rect x="493" y="923" width="28" height="94" fill="#868686"/><rect x="493" y="907.3" width="28" height="15.7" fill="#7fba00"/><rect x="493" y="903" width="28" height="4.3" fill="#8f7700"/><rect x="493" y="841.7" width="28" height="61.3" fill="#003c67"/><rect x="493" y="801.3" width="28" height="40.4" fill="#cd534c"/><rect x="493" y="738" width="28" height="63.3" fill="#efc000"/><rect x="493" y="732" width="28" height="6" fill="#0073c2"/>
<rect x="582" y="940.3" width="29" height="76.7" fill="#868686"/><rect x="582" y="922.1" width="29" height="18.2" fill="#7fba00"/><rect x="582" y="921.2" width="29" height="0.9" fill="#8f7700"/><rect x="582" y="856" width="29" height="65.2" fill="#003c67"/><rect x="582" y="820.4" width="29" height="35.6" fill="#cd534c"/><rect x="582" y="751.1" width="29" height="69.3" fill="#efc000"/><rect x="582" y="732" width="29" height="19.1" fill="#0073c2"/>
<rect x="627" y="891.9" width="29" height="125.1" fill="#868686"/><rect x="627" y="884.8" width="29" height="7.1" fill="#7fba00"/><rect x="627" y="881.6" width="29" height="3.2" fill="#8f7700"/><rect x="627" y="819.8" width="29" height="61.8" fill="#003c67"/><rect x="627" y="789" width="29" height="30.8" fill="#cd534c"/><rect x="627" y="736.3" width="29" height="52.7" fill="#efc000"/><rect x="627" y="732" width="29" height="4.3" fill="#0073c2"/>
</g>
<g font-size="15" text-anchor="middle" fill="#1a1a1a">
<text x="88" y="846">a</text><text x="88" y="982">c</text><text x="88" y="989">c</text><text x="88" y="997">c</text>
<text x="132" y="767">b</text><text x="132" y="837">a</text><text x="132" y="896">b</text><text x="132" y="916">bc</text>
<text x="177" y="744">c</text><text x="177" y="776">ab</text><text x="177" y="832">b</text><text x="177" y="882">a</text>
<text x="266" y="744">c</text><text x="266" y="773">b</text><text x="266" y="823">a</text><text x="266" y="873">b</text>
<text x="311" y="738">c</text><text x="311" y="765">b</text><text x="311" y="806">b</text><text x="311" y="852">a</text>
<text x="417.5" y="796">a</text><text x="417.5" y="866">c</text><text x="417.5" y="876">b</text><text x="417.5" y="887">b</text>
<text x="462.5" y="752">b</text><text x="462.5" y="812">a</text><text x="462.5" y="869">b</text><text x="462.5" y="881">b</text>
<text x="507" y="738">c</text><text x="507" y="773">b</text><text x="507" y="825">a</text><text x="507" y="880">a</text>
<text x="596.5" y="746">bc</text><text x="596.5" y="777">ab</text><text x="596.5" y="842">a</text><text x="596.5" y="889">a</text>
<text x="641.5" y="741">c</text><text x="641.5" y="768">b</text><text x="641.5" y="807">a</text><text x="641.5" y="855">a</text>
</g>
<g fill="none" stroke="#333" stroke-width="1">
<rect x="60" y="679" width="277" height="28" fill="#fff"/>
<rect x="60" y="707" width="277" height="25" fill="#fff"/>
<line x1="223" y1="707" x2="223" y2="732"/>
<line x1="60" y1="732" x2="337" y2="732"/>
<rect x="391" y="679" width="284" height="28" fill="#fff"/>
<rect x="391" y="707" width="284" height="25" fill="#fff"/>
<line x1="552" y1="707" x2="552" y2="732"/>
<line x1="391" y1="732" x2="675" y2="732"/>
</g>
<g stroke="#777" stroke-width="1" fill="none">
<path d="M60 732V1017M337 732V1017M223 732V1017"/>
<path d="M391 732V1017M675 732V1017M552 732V1017"/>
<path d="M56 732H60M56 803.3H60M56 874.5H60M56 945.8H60M56 1017H60"/>
<path d="M387 732H391M387 803.3H391M387 874.5H391M387 945.8H391M387 1017H391"/>
<path d="M88 1017V1021M132 1017V1021M177 1017V1021M266 1017V1021M311 1017V1021"/>
<path d="M417.5 1017V1021M462.5 1017V1021M507 1017V1021M596.5 1017V1021M641.5 1017V1021"/>
</g>
<text x="220" y="700" font-size="17.9" font-style="italic" text-anchor="middle">F. mandshurica</text>
<text x="146" y="723" font-size="17.9" text-anchor="middle">Early-stage</text>
<text x="279" y="723" font-size="17.9" text-anchor="middle">Late-stage</text>
<text x="533" y="700" font-size="17.9" font-style="italic" text-anchor="middle">P. koraiensis</text>
<text x="477" y="723" font-size="17.9" text-anchor="middle">Early-stage</text>
<text x="615" y="723" font-size="17.9" text-anchor="middle">Late-stage</text>
<g font-size="15.5" text-anchor="end" fill="#222">
<text x="55" y="737">1.00</text><text x="55" y="808">0.75</text><text x="55" y="880">0.50</text><text x="55" y="951">0.25</text><text x="55" y="1022">0.00</text>
<text x="386" y="737">1.00</text><text x="386" y="808">0.75</text><text x="386" y="880">0.50</text><text x="386" y="951">0.25</text><text x="386" y="1022">0.00</text>
</g>
<text transform="translate(21,838) rotate(-90)" font-size="17.5" text-anchor="middle">Relative abundance</text>
<g font-size="15.5" text-anchor="middle" fill="#222">
<text x="89" y="1033">NSL</text><text x="132" y="1033">EDL</text><text x="186" y="1033">Soil (early)</text><text x="266" y="1033">LDL</text><text x="313" y="1033">Soil (late)</text>
<text x="418" y="1033">NSL</text><text x="463" y="1033">EDL</text><text x="516" y="1033">Soil (early)</text><text x="596.5" y="1033">LDL</text><text x="643" y="1033">Soil (late)</text>
</g>
<text x="689" y="720" font-size="22.5">Class</text>
<rect x="690" y="734" width="34" height="33" fill="#0073c2"/><text x="728" y="756" font-size="17">Dothideomycetes</text>
<rect x="690" y="773.7" width="34" height="33" fill="#efc000"/><text x="728" y="796" font-size="17">Leotiomycetes</text>
<rect x="690" y="813.4" width="34" height="33" fill="#cd534c"/><text x="728" y="836" font-size="17">Sordariomycetes</text>
<rect x="690" y="853.1" width="34" height="33" fill="#003c67"/><text x="728" y="875" font-size="17">Agaricomycetes</text>
<rect x="690" y="892.8" width="34" height="33" fill="#8f7700"/><text x="728" y="915" font-size="17" textLength="152" lengthAdjust="spacingAndGlyphs">Microbotryomycetes</text>
<rect x="690" y="932.5" width="34" height="33" fill="#7fba00"/><text x="728" y="955" font-size="17">Eurotiomycetes</text>
<rect x="690" y="972.2" width="34" height="33" fill="#868686"/><text x="728" y="994" font-size="17.8">Others</text>
</svg>
</body></html>
